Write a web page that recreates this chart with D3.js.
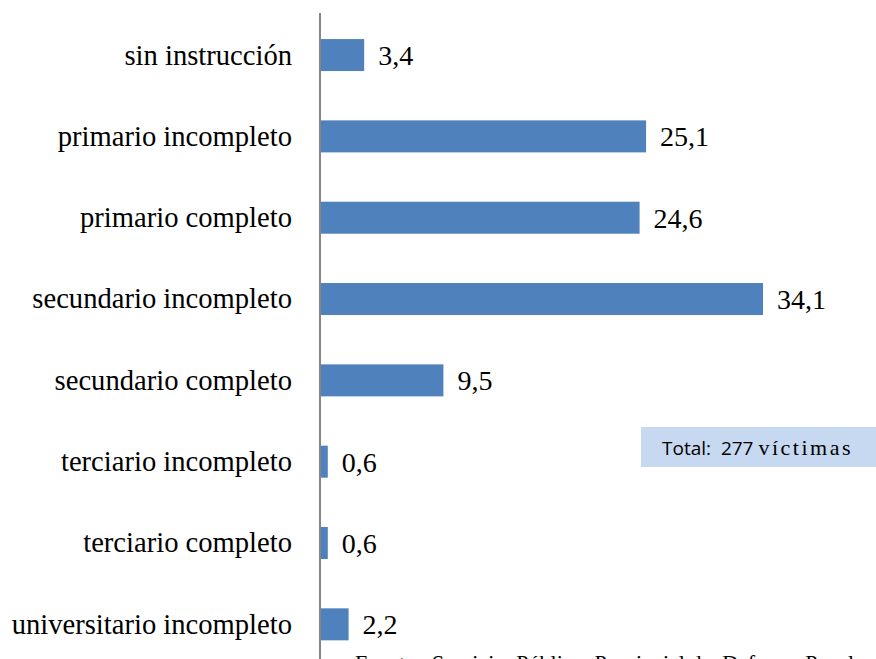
<!DOCTYPE html>
<meta charset="utf-8">
<style>
body { margin: 0; background: #fff; }
.cat { font-family: "Liberation Serif", "Times New Roman", serif; font-size: 28.6px; fill: #000; text-anchor: end; }
.val { font-family: "Liberation Serif", "Times New Roman", serif; font-size: 28px; fill: #000; }
</style>
<body>
<svg width="876" height="659"></svg>
<script src="https://d3js.org/d3.v7.min.js"></script>
<script>

  // nivel de instruccion de las victimas (%)
  var categories = [
    "sin instrucción",
    "primario incompleto",
    "primario completo",
    "secundario incompleto",
    "secundario completo",
    "terciario incompleto",
    "terciario completo",
    "universitario incompleto"
  ];
  var values = [3.4, 25.1, 24.6, 34.1, 9.5, 0.6, 0.6, 2.2];
  var valueLabels = ["3,4", "25,1", "24,6", "34,1", "9,5", "0,6", "0,6", "2,2"];

  var totalText = "277";
  var sourceText = "Fuente:  Servicio  Público  Provincial de  Defensa  Penal";

  var svg = d3.select("svg");
  var data = categories.map(function(c, i) { return { cat: c, v: values[i], lbl: valueLabels[i] }; });

  var x = d3.scaleLinear().domain([0, 34.1]).range([320, 763]);
  var y = d3.scaleBand().domain(categories).range([14.4, 665]).padding(0);
  var barH = 32;

  // bars
  svg.selectAll("rect.bar")
    .data(data)
    .enter().append("rect")
      .attr("class", "bar")
      .attr("x", x(0))
      .attr("y", function(d) { return y(d.cat) + y.bandwidth() / 2 - barH / 2; })
      .attr("width", function(d) { return x(d.v) - x(0); })
      .attr("height", barH)
      .style("fill", "#4f81bd");

  // vertical axis line, no ticks
  svg.append("g")
    .attr("transform", "translate(" + x(0) + ",0)")
    .call(d3.axisLeft(y).tickSize(0).tickFormat(""))
    .call(function(g) {
      g.select(".domain").attr("d", "M0,13V659").attr("stroke", "#868686").attr("stroke-width", 2);
    });

  // category labels
  svg.selectAll("text.cat")
    .data(data)
    .enter().append("text")
      .attr("class", "cat")
      .attr("x", 292)
      .attr("y", function(d) { return y(d.cat) + y.bandwidth() / 2; })
      .attr("dy", "0.33em")
      .text(function(d) { return d.cat; });

  // value labels
  svg.selectAll("text.val")
    .data(data)
    .enter().append("text")
      .attr("class", "val")
      .attr("x", function(d) { return x(d.v) + 14; })
      .attr("y", function(d) { return y(d.cat) + y.bandwidth() / 2; })
      .attr("dy", "0.36em")
      .text(function(d) { return d.lbl; });

  // total box
  svg.append("rect")
    .attr("x", 641).attr("y", 427)
    .attr("width", 240).attr("height", 40)
    .style("fill", "#c6d9f1");

  var t = svg.append("text")
    .attr("x", 662).attr("y", 455)
    .style("fill", "#000");
  t.append("tspan")
    .style("font-family", "'Open Sans', 'Liberation Sans', sans-serif")
    .style("font-size", "19px")
    .attr("xml:space", "preserve")
    .text("Total:  " + totalText + " ");
  t.append("tspan")
    .style("font-family", "'Liberation Serif', serif")
    .style("font-size", "22px")
    .style("letter-spacing", "2.5px")
    .text("víctimas");

  // source
  svg.append("text")
    .attr("x", 355).attr("y", 670)
    .style("font-family", "'Liberation Serif', serif")
    .style("font-size", "22px")
    .attr("xml:space", "preserve")
    .text(sourceText);

</script>
</body>
